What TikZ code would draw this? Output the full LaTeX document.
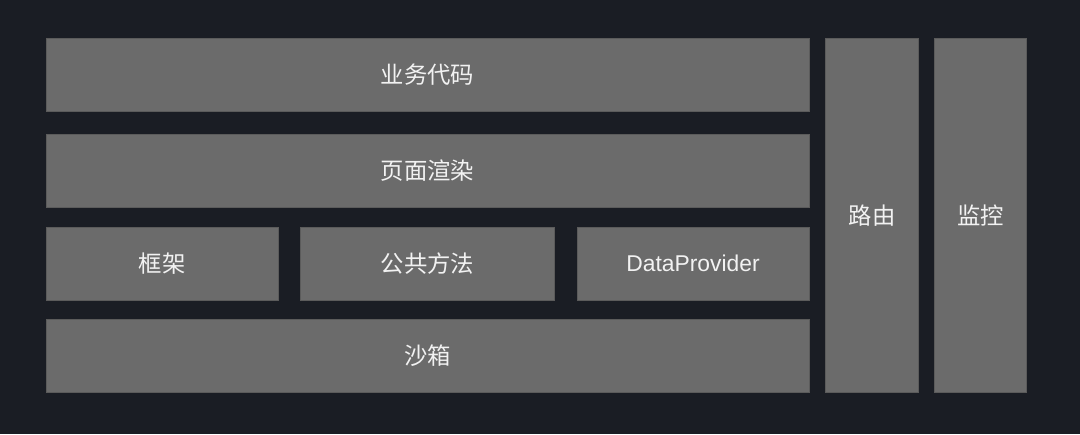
\documentclass[tikz,border=0pt]{standalone}
\usepackage{fontspec}
\setmainfont{Liberation Sans}
\newfontfamily\cjk{Noto Sans CJK SC}
\usepackage{tikz}
\definecolor{bgdark}{HTML}{1A1D24}
\definecolor{boxgray}{HTML}{6B6B6B}
\definecolor{labelwhite}{HTML}{F2F2F2}
\tikzstyle{layer} = [fill=boxgray, draw=boxgray!85!black, line width=0.3pt, inner sep=0pt, text=labelwhite, font=\cjk\fontsize{13.3pt}{15pt}\selectfont]
\tikzstyle{wide} = [layer, minimum width=15.26cm, minimum height=1.46cm]
\tikzstyle{tall} = [layer, minimum height=7.09cm]

\begin{document}
\begin{tikzpicture}[x=0.02cm, y=-0.02cm]
	  \fill [bgdark] (0,0) rectangle (1080,434);
	  \useasboundingbox (0,0) rectangle (1080,434);

	  \node (biz) at (427.5,74.5) [wide] {业务代码};
	  \node (render) at (427.5,171) [wide] {页面渲染};
	  \node (frame) at (162.25,263.5) [layer, minimum width=4.65cm, minimum height=1.46cm] {框架};
	  \node (common) at (427.6,263.5) [layer, minimum width=5.08cm, minimum height=1.46cm] {公共方法};
	  \node (provider) at (693,263.5) [layer, minimum width=4.65cm, minimum height=1.46cm, font=\fontsize{13pt}{15pt}\selectfont] {DataProvider};
	  \node (sandbox) at (427.5,356) [wide] {沙箱};

	  \node (route) at (872,215.25) [tall, minimum width=1.86cm] {路由};
	  \node (monitor) at (980.6,215.25) [tall, minimum width=1.84cm] {监控};
\end{tikzpicture}
\end{document}
